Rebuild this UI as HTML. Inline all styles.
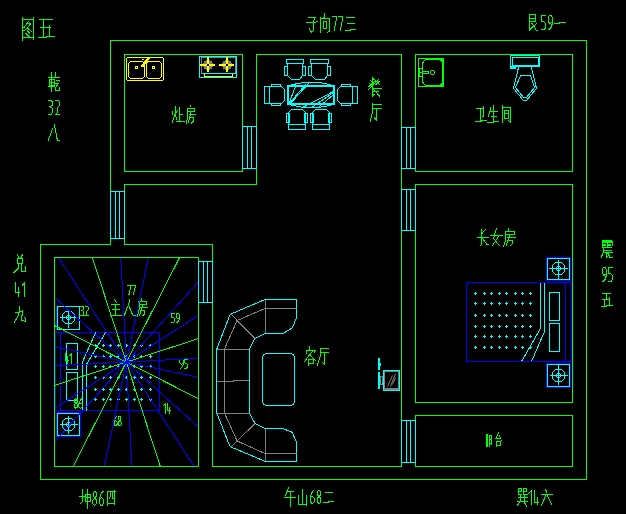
<!DOCTYPE html>
<html><head><meta charset="utf-8"><title>Floor plan</title>
<style>html,body{margin:0;padding:0;background:#000;overflow:hidden;font-family:"Liberation Sans",sans-serif}svg{display:block}</style>
</head><body>
<svg width="626" height="514" viewBox="0 0 626 514" fill="none" stroke-width="1" shape-rendering="crispEdges">
<title>图五 户型风水图</title>
<desc>图五: 灶房 餐厅 卫生间 长女房 主人房 客厅 阳台; 乾32八 兑41九 子向77三 艮59一 震95五 坤86四 午山68二 巽14六</desc>
<rect x="0" y="0" width="626" height="514" fill="#000" stroke="none"/>
<g transform="translate(0.5,0.5)">
<path d="M110 40 L586 40 L586 479 L40 479 L40 244 L110 244 Z" stroke="#00ff00" />
<path d="M256 54 L401 54 L401 466 L212 466 L212 244 L124 244 L124 184 L256 184 Z" stroke="#00ff00" />
<path d="M124 54 L242 54 L242 171 L124 171 Z" stroke="#00ff00" />
<path d="M415 54 L572 54 L572 171 L415 171 Z" stroke="#00ff00" />
<path d="M415 184 L572 184 L572 402 L415 402 Z" stroke="#00ff00" />
<path d="M415 415 L572 415 L572 466 L415 466 Z" stroke="#00ff00" />
<path d="M54 257 L198 257 L198 466 L54 466 Z" stroke="#00ff00" />
<path d="M546 257 L570 257 L570 280 L546 280 Z" stroke="#0000ff" />
<path d="M547 258 L569 258 L569 279 L547 279 Z" stroke="#00ffff" />
<circle cx="558" cy="268" r="6.5" stroke="#00ffff"/>
<circle cx="558" cy="268" r="2" stroke="#00ffff"/>
<path d="M548 268 L567 268" stroke="#00ffff" />
<path d="M558 259 L558 279" stroke="#00ffff" />
<path d="M546 363 L570 363 L570 387 L546 387 Z" stroke="#0000ff" />
<path d="M547 364 L569 364 L569 386 L547 386 Z" stroke="#00ffff" />
<circle cx="558" cy="375" r="6.5" stroke="#00ffff"/>
<circle cx="558" cy="375" r="2" stroke="#00ffff"/>
<path d="M549 375 L567 375" stroke="#00ffff" />
<path d="M558 364 L558 384" stroke="#00ffff" />
<path d="M466 282 L571 282 L571 361 L466 361 Z" stroke="#0000ff" />
<path d="M565 282 L565 361" stroke="#0000ff" />
<path d="M549 292 L559 292 L559 320 L549 320 Z" stroke="#00ffff" />
<path d="M549 323 L559 323 L559 351 L549 351 Z" stroke="#00ffff" />
<path d="M540 282 L540 328 L521 361" stroke="#00ffff" />
<path d="M544 282 L544 331 L531 361" stroke="#00ffff" />
<path d="M473.5 293h3M475 291.5v3M482.5 293h3M484 291.5v3M489.5 293h3M491 291.5v3M497.5 293h3M499 291.5v3M504.5 293h3M506 291.5v3M513.5 293h3M515 291.5v3M520.5 293h3M522 291.5v3M528.5 293h3M530 291.5v3M473.5 303h3M475 301.5v3M482.5 303h3M484 301.5v3M489.5 303h3M491 301.5v3M497.5 303h3M499 301.5v3M504.5 303h3M506 301.5v3M513.5 303h3M515 301.5v3M520.5 303h3M522 301.5v3M528.5 303h3M530 301.5v3M473.5 315h3M475 313.5v3M482.5 315h3M484 313.5v3M489.5 315h3M491 313.5v3M497.5 315h3M499 313.5v3M504.5 315h3M506 313.5v3M513.5 315h3M515 313.5v3M520.5 315h3M522 313.5v3M528.5 315h3M530 313.5v3M473.5 326h3M475 324.5v3M482.5 326h3M484 324.5v3M489.5 326h3M491 324.5v3M497.5 326h3M499 324.5v3M504.5 326h3M506 324.5v3M513.5 326h3M515 324.5v3M520.5 326h3M522 324.5v3M528.5 326h3M530 324.5v3M473.5 336h3M475 334.5v3M482.5 336h3M484 334.5v3M489.5 336h3M491 334.5v3M497.5 336h3M499 334.5v3M504.5 336h3M506 334.5v3M513.5 336h3M515 334.5v3M520.5 336h3M522 334.5v3M528.5 336h3M530 334.5v3M473.5 347h3M475 345.5v3M482.5 347h3M484 345.5v3M489.5 347h3M491 345.5v3M497.5 347h3M499 345.5v3M504.5 347h3M506 345.5v3M513.5 347h3M515 345.5v3M520.5 347h3M522 345.5v3M528.5 347h3M530 345.5v3" stroke="#00ffff"/>
<path d="M56 306 L79 306 L79 329 L56 329 Z" stroke="#0000ff" />
<path d="M57 306 L79 306 L79 329 L57 329 Z" stroke="#00ffff" />
<circle cx="68" cy="317" r="6.5" stroke="#00ffff"/>
<circle cx="68" cy="317" r="2" stroke="#00ffff"/>
<path d="M59 317 L77 317" stroke="#00ffff" />
<path d="M68 308 L68 327" stroke="#00ffff" />
<path d="M56 412 L80 412 L80 436 L56 436 Z" stroke="#0000ff" />
<path d="M57 413 L79 413 L79 435 L57 435 Z" stroke="#00ffff" />
<circle cx="68" cy="424" r="6.5" stroke="#00ffff"/>
<circle cx="68" cy="424" r="2" stroke="#00ffff"/>
<path d="M59 424 L77 424" stroke="#00ffff" />
<path d="M68 415 L68 433" stroke="#00ffff" />
<path d="M55 332 L159 332 L159 410 L55 410 Z" stroke="#0000ff" />
<path d="M60 332 L60 410" stroke="#0000ff" />
<path d="M66 343 L77 343 L77 369 L66 369 Z" stroke="#00ffff" />
<path d="M66 372 L77 372 L77 400 L66 400 Z" stroke="#00ffff" />
<path d="M82 410 L82 361.5 L95 332" stroke="#00ffff" />
<path d="M86 410 L86 364 L105 332" stroke="#00ffff" />
<path d="M148.5 399h3M150 397.5v3M139.5 399h3M141 397.5v3M132.5 399h3M134 397.5v3M124.5 399h3M126 397.5v3M116.5 399h3M118 397.5v3M108.5 399h3M110 397.5v3M101.5 399h3M103 397.5v3M93.5 399h3M95 397.5v3M148.5 389h3M150 387.5v3M139.5 389h3M141 387.5v3M132.5 389h3M134 387.5v3M124.5 389h3M126 387.5v3M116.5 389h3M118 387.5v3M108.5 389h3M110 387.5v3M101.5 389h3M103 387.5v3M93.5 389h3M95 387.5v3M148.5 377h3M150 375.5v3M139.5 377h3M141 375.5v3M132.5 377h3M134 375.5v3M124.5 377h3M126 375.5v3M116.5 377h3M118 375.5v3M108.5 377h3M110 375.5v3M101.5 377h3M103 375.5v3M93.5 377h3M95 375.5v3M148.5 366h3M150 364.5v3M139.5 366h3M141 364.5v3M132.5 366h3M134 364.5v3M124.5 366h3M126 364.5v3M116.5 366h3M118 364.5v3M108.5 366h3M110 364.5v3M101.5 366h3M103 364.5v3M93.5 366h3M95 364.5v3M148.5 356h3M150 354.5v3M139.5 356h3M141 354.5v3M132.5 356h3M134 354.5v3M124.5 356h3M126 354.5v3M116.5 356h3M118 354.5v3M108.5 356h3M110 354.5v3M101.5 356h3M103 354.5v3M93.5 356h3M95 354.5v3M148.5 345h3M150 343.5v3M139.5 345h3M141 343.5v3M132.5 345h3M134 343.5v3M124.5 345h3M126 343.5v3M116.5 345h3M118 343.5v3M108.5 345h3M110 343.5v3M101.5 345h3M103 343.5v3M93.5 345h3M95 343.5v3" stroke="#00ffff"/>
<path d="M242 126 L256 126 L256 168 L242 168 Z" stroke="#00ffff" />
<path d="M247 126 L247 168" stroke="#00ffff" />
<path d="M251 126 L251 168" stroke="#00ffff" />
<path d="M401 127 L415 127 L415 168 L401 168 Z" stroke="#00ffff" />
<path d="M406 127 L406 168" stroke="#00ffff" />
<path d="M410 127 L410 168" stroke="#00ffff" />
<path d="M401 189 L415 189 L415 230 L401 230 Z" stroke="#00ffff" />
<path d="M406 189 L406 230" stroke="#00ffff" />
<path d="M410 189 L410 230" stroke="#00ffff" />
<path d="M110 191 L124 191 L124 238 L110 238 Z" stroke="#00ffff" />
<path d="M115 191 L115 238" stroke="#00ffff" />
<path d="M119 191 L119 238" stroke="#00ffff" />
<path d="M198 261 L212 261 L212 302 L198 302 Z" stroke="#00ffff" />
<path d="M203 261 L203 302" stroke="#00ffff" />
<path d="M207 261 L207 302" stroke="#00ffff" />
<path d="M401 420 L415 420 L415 462 L401 462 Z" stroke="#00ffff" />
<path d="M406 420 L406 462" stroke="#00ffff" />
<path d="M410 420 L410 462" stroke="#00ffff" />
<path d="M127 57 L162 57 L163 58 L163 79 L162 80 L127 80 L126 79 L126 58 Z" stroke="#ffff00" />
<path d="M130 61 L142 61 L144 63 L144 76 L142 78 L130 78 L128 76 L128 63 Z" stroke="#ffff00" />
<path d="M148 61 L159 61 L161 63 L161 76 L159 78 L148 78 L146 76 L146 63 Z" stroke="#ffff00" />
<path d="M135 66 L137 66 L137 68 L135 68 Z" stroke="#ffff00" />
<path d="M152 66 L154 66 L154 68 L152 68 Z" stroke="#ffff00" />
<path d="M140 67 L146 59" stroke="#ffff00" />
<path d="M141 67 L147 59" stroke="#ffff00" />
<path d="M142 67 L148 59" stroke="#ffff00" />
<path d="M141 59 L143 59" stroke="#ffff00" />
<path d="M146 58 L149 58" stroke="#ffff00" />
<path d="M145 60 L145 62" stroke="#ffff00" />
<path d="M199 56 L236 56 L236 77 L199 77 Z" stroke="#00ffff" />
<path d="M201 57 L235 57 L235 73 L201 73 Z" stroke="#808080" />
<path d="M201 73 L235 73" stroke="#00ffff" />
<path d="M204 73 L204 76 L232 76 L232 73" stroke="#ffff00" />
<circle cx="207.5" cy="64.5" r="5" fill="#808080" stroke="none"/>
<rect x="200" y="64" width="15" height="2" fill="#ffff00" stroke="none" transform="translate(-.5,-.5)"/>
<rect x="207" y="57" width="2" height="15" fill="#ffff00" stroke="none" transform="translate(-.5,-.5)"/>
<rect x="207" y="64" width="2" height="2" fill="#000" stroke="none" transform="translate(-.5,-.5)"/>
<circle cx="226.5" cy="64.5" r="5" fill="#808080" stroke="none"/>
<rect x="219" y="64" width="15" height="2" fill="#ffff00" stroke="none" transform="translate(-.5,-.5)"/>
<rect x="226" y="57" width="2" height="15" fill="#ffff00" stroke="none" transform="translate(-.5,-.5)"/>
<rect x="226" y="64" width="2" height="2" fill="#000" stroke="none" transform="translate(-.5,-.5)"/>
<path d="M287 85 L334 85 L334 104 L287 104 Z" stroke="#00ffff" />
<path d="M288 86 L333 86 L333 103 L288 103 Z" stroke="#00ffff" />
<path d="M288 85 Q311 78.5 333 85" stroke="#00ffff"/>
<path d="M288 104 Q311 110.5 333 104" stroke="#00ffff"/>
<path d="M288 104 L295 86" stroke="#00ffff" />
<path d="M288 104 L305 84" stroke="#00ffff" />
<path d="M289 104 L308 83" stroke="#00ffff" />
<path d="M302 107 L333 91" stroke="#00ffff" />
<path d="M311 107 L333 92" stroke="#00ffff" />
<path d="M319 106 L333 94" stroke="#00ffff" />
<path d="M286 59 L303 59 L303 63 L286 63 Z" stroke="#00ffff" />
<path d="M287 63 L287 75 L291 79 L299 79 L302 75 L302 63" stroke="#00ffff" />
<path d="M284 66 L287 66 L287 75 L284 75 Z" stroke="#00ffff" />
<path d="M302 66 L305 66 L305 75 L302 75 Z" stroke="#00ffff" />
<path d="M310 59 L328 59 L328 63 L310 63 Z" stroke="#00ffff" />
<path d="M311 63 L311 75 L315 79 L324 79 L327 75 L327 63" stroke="#00ffff" />
<path d="M308 66 L311 66 L311 75 L308 75 Z" stroke="#00ffff" />
<path d="M327 66 L330 66 L330 75 L327 75 Z" stroke="#00ffff" />
<path d="M288 124 L288 112 L291 109 L302 109 L305 112 L305 124" stroke="#00ffff" />
<path d="M288 124 L305 124 L305 129 L288 129 Z" stroke="#00ffff" />
<path d="M286 113 L289 113 L289 122 L286 122 Z" stroke="#00ffff" />
<path d="M304 113 L307 113 L307 122 L304 122 Z" stroke="#00ffff" />
<path d="M312 124 L312 112 L315 109 L326 109 L329 112 L329 124" stroke="#00ffff" />
<path d="M312 124 L329 124 L329 129 L312 129 Z" stroke="#00ffff" />
<path d="M310 113 L313 113 L313 122 L310 122 Z" stroke="#00ffff" />
<path d="M328 113 L331 113 L331 122 L328 122 Z" stroke="#00ffff" />
<path d="M264 86 L269 86 L269 103 L264 103 Z" stroke="#00ffff" />
<path d="M269 86 L281 86 L284 89 L284 100 L281 103 L269 103" stroke="#00ffff" />
<path d="M271 84 L280 84 L280 86 L271 86 Z" stroke="#00ffff" />
<path d="M271 103 L280 103 L280 105 L271 105 Z" stroke="#00ffff" />
<path d="M352 86 L357 86 L357 103 L352 103 Z" stroke="#00ffff" />
<path d="M352 86 L340 86 L337 89 L337 100 L340 103 L352 103" stroke="#00ffff" />
<path d="M341 84 L350 84 L350 86 L341 86 Z" stroke="#00ffff" />
<path d="M341 103 L350 103 L350 105 L341 105 Z" stroke="#00ffff" />
<path d="M418 58 L443 58 L443 86 L418 86 Z" stroke="#00ff00" />
<path d="M425 59 L442 59 L442 85 L425 85 L423 83 L422 81 L422 63 L423 61 Z" stroke="#00ff00" />
<path d="M439.5 60h2M440.5 61h1M439.5 84h2M440.5 83h1" stroke="#00ff00"/>
<path d="M419 68 L422 68 L422 76 L419 76 Z" stroke="#00ff00" />
<path d="M422 71 L428 71 L428 73 L422 73 Z" stroke="#00ff00" />
<path d="M419 72 L421 72" stroke="#00ff00" />
<circle cx="432" cy="72" r="2" stroke="#00ff00"/>
<path d="M510 55 L539 55 L539 66 L510 66 Z" stroke="#00ffff" />
<path d="M512 57 L538 57 L538 65 L512 65 Z" stroke="#00ffff" />
<rect x="510" y="66" width="6" height="3" fill="#00ffff" stroke="none" transform="translate(-.5,-.5)"/>
<path d="M518 67 L513 88 L523 100 L526 100 L536 88 L531 67" stroke="#00ffff" />
<path d="M520 75 L530 75 L534 87 L526 97 L523 97 L515 87 Z" stroke="#00ffff" />
<path d="M383 370 L399 370 L399 390 L383 390 Z" stroke="#00ffff" />
<path d="M384 371 L398 371 L398 389 L384 389 Z" stroke="#808080" />
<path d="M384 388 L398 388" stroke="#808080" />
<path d="M387 386 L392 375" stroke="#808080" shape-rendering="auto"/>
<path d="M390 386 L395 373" stroke="#808080" shape-rendering="auto"/>
<path d="M392 384 L395 377" stroke="#808080" shape-rendering="auto"/>
<rect x="378" y="358" width="2" height="12" fill="#00ffff" stroke="none" transform="translate(-.5,-.5)"/>
<rect x="378" y="372" width="2" height="17" fill="#00ffff" stroke="none" transform="translate(-.5,-.5)"/>
<path d="M380 362 L380 365" stroke="#00ffff" />
<path d="M380 376 L382 376 L382 384 L380 384 Z" stroke="#808080" />
<path d="M382 377 L383 376" stroke="#00ffff" />
<path d="M382 383 L383 384" stroke="#00ffff" />
</g>
<g>
<path d="M296.5 299.5 L265 299.5 L231 314 L229.5 316 L216.8 349 L216.8 413 L229.5 445.5 L231 447 L265 461.3 L296.5 461.3 L296.5 442.5 L292.3 432.3 L283 428.6 L265 428.6 L255 423.4 L249.4 413 L249.4 349 L255 338.4 L265 333.4 L283 333.4 L292.3 328 L296.5 317.7 Z" stroke="#00ffff" />
<path d="M265 299.5 L265 333.4" stroke="#808080" />
<path d="M265 308.5 L296.5 308.5" stroke="#808080" />
<path d="M265 308.5 L237.2 320.5 L224.4 349" stroke="#808080" />
<path d="M237.2 320.5 L231 314" stroke="#808080" />
<path d="M237.2 320.5 L255 338.4" stroke="#808080" />
<path d="M216.8 349 L249.4 349" stroke="#808080" />
<path d="M224.4 349 L224.4 413" stroke="#808080" />
<path d="M216.8 381.5 L233 381.5 L233 380.5 L249.4 380.5" stroke="#808080" />
<path d="M216.8 413 L249.4 413" stroke="#808080" />
<path d="M224.4 413 L237.2 441 L265 453.6" stroke="#808080" />
<path d="M237.2 441 L231 447" stroke="#808080" />
<path d="M237.2 441 L255 423.4" stroke="#808080" />
<path d="M265 453.6 L296.5 453.6" stroke="#808080" />
<path d="M265 428.6 L265 461.3" stroke="#808080" />
<rect x="262.5" y="353.5" width="32" height="52" rx="4.5" ry="4.5" stroke="#00ffff"/>
<path d="M22.5 17 L22.5 40.5M33.5 17 L33.5 39.5M22.5 19.7 L33.5 19.7M22.5 37.6 L33.5 37.6M29 21 L24 27.5M26.5 23.5 L31 23M31 23 L27.5 28 L24 30.5M27.5 28 L32 32M27.5 31 L29.5 33M26 33.5 L29 36.5M39 19.8 L52 19.8M43.5 19.8 L43.5 37.5M40 27.2 L50 27.2M49.7 25 L49.7 36.5M38.2 37.6 L46 37.6M46 36.6 L54.8 36.6M51.5 72 L51.5 91M48 77.5 L54 77.5M49 79.5 L54 79.5 L54 85 L49 85 L49 79.5M49 82.3 L54 82.3M48 86.5 L54 86.5M56 72 L55.3 76M55 77.5 L59.5 77.5M56 80.5 L59 80.5M55.5 83 L58.5 83 L55.5 88 L55.5 90 L59.5 90 L59.5 87M48 100.59 L51.15 100.59 L52.27 101.73 L52.27 105.45 L49.8 106.73M49.8 106.73 L52.27 108.16 L52.27 112.88 L51.15 114.6 L48 114.6M55.45 100.73 L58.6 100.73 L59.27 101.73 L59.27 106.02 L57.02 108.16 L57.02 113.17 L55.23 114.6 L59.5 114.6M52.5 129 L48.2 140.5M54.4 125 L57.3 140 L59.8 140.3M17.5 255 L18.5 257.5M22.5 254.5 L21 257.5M17.5 258 L22.5 258 L22.5 263.5 L17.5 263.5 L17.5 258M18.6 263.5 L18.6 268 L14.2 272.5M21 263.5 L21 271 L25.4 271 L25.4 266M15.68 282.3 L15.68 292.16 L19.5 292.16M18.24 287.1 L18.24 296M24.7 282.3 L24.7 296M24.7 282.57 L22.45 285.31M19.5 306.2 L19.5 312M15 312.4 L19.5 312.4M19.5 311.2 L22.5 311.2M18.7 312.4 L18.5 315 L14.3 322.5M22.5 310 L22.5 315 L21.6 315 L21.6 320.7 L25.7 321.3 L25.7 320 L24.5 317.2M308 17 L315.7 17 L313.2 21.8M306.2 23 L312 22.5 L317.9 21.7M313.4 22 L313.4 30.7 L311.5 32.4 L309.5 29M324.8 14 L324 17.5M320.5 17.3 L320.5 32M320.5 18.4 L329.5 18.4 L329.5 31.3 L327.4 32.4M323.5 21.8 L326.8 21.8 L326.8 28.5 L323.5 28.5 L323.5 21.8M332 16.59 L336.18 16.59 L336.18 19.9 L334.2 30.7M338.2 16.59 L342.38 16.59 L342.38 19.9 L340.4 30.7M346.5 17.7 L354.5 17.7M347 23 L354 23M345.3 30.4 L350 30.4M350 29.4 L355.9 29.4M529.3 14.1 L529.3 30.6M529.3 14.6 L535.9 14.6 L535.9 21.8 L529.3 21.8M529.3 18.4 L535.9 18.4M536.7 23.3 L529.3 30M531.7 23 L536.3 30.2 L537.8 30.2M545.57 15.69 L541.75 15.69 L541.75 21.45 L544 21.88 L545.57 23.75 L545.57 27.64 L544 29.8 L541.52 29.8M552.17 22.6 L549.7 23.32 L548.12 21.45 L548.12 17.13 L549.48 15.69 L551.05 15.69 L552.17 17.13 L552.17 24.04 L551.05 27.64 L548.8 29.8M554 23.3 L559 23.3M559 22.4 L565 22.4M602.5 240.2 L611.5 240.2M602 246 L602 242.3 L612 242.3 L612 245M607 240.2 L607 246.5M603.5 244.3 L605.5 244.3M608.5 244.3 L610.5 244.3M603.5 245.6 L605.5 245.6M608.5 245.6 L610.5 245.6M602 241.2 L612 241.2M602.5 247.7 L611.5 247.7M603 247.7 L603 253 L601 258M604.5 250 L611 250M604.5 252.6 L612 252.6M606 252.6 L606 258 L608 256M607.5 252.6 L610 257.5 L612.5 257.5M606.18 274.5 L603.76 275.23 L602.22 273.33 L602.22 268.95 L603.54 267.49 L605.08 267.49 L606.18 268.95 L606.18 275.96 L605.08 279.61 L602.88 281.8M612.48 267.49 L608.74 267.49 L608.74 273.33 L610.94 273.77 L612.48 275.67 L612.48 279.61 L610.94 281.8 L608.52 281.8M602 293.3 L610.5 293.3M606.4 293.3 L606.4 299.5 L604.3 299.5 L604.3 306.5M602 299.7 L609.6 299.7M609 297 L609 305M601 306.6 L606.5 306.6M606.5 305.6 L612.7 305.6M82.6 489 L82.6 501.2 L80.2 503.6M79.8 496.8 L85 496.8M87.4 489 L87.4 508M85 494 L90.2 494 L90.2 501.6 L85 501.6 L85 494M85 497.7 L90.2 497.7M94.7 491.3 L93.26 492.72 L93.26 496.27 L94.7 497.97 L96.14 496.27 L96.14 492.72 L94.7 491.3M94.7 497.97 L92.99 499.82 L92.99 503.8 L94.7 505.5 L96.41 503.8 L96.41 499.82 L94.7 497.97M103.16 491.3 L101.4 493.43 L99.64 497.69 L99.64 503.37 L100.96 505.5 L102.06 505.5 L103.38 503.37 L103.38 499.54 L101.84 497.69 L99.64 499.11M107.3 491 L107.3 505.6M107.3 491.7 L115.3 491.7M114.4 490 L114.4 504.8M107.3 503.3 L114.4 503.3M110.1 491.7 L110.1 497 L109 499M112.3 491.7 L112.3 498.8 L114 499M288.4 488 L285.3 495.4M287.5 491.2 L293.9 491.2M284 497 L295.8 497M290.4 491.2 L290.4 506M302.5 489.2 L302.5 504M298.5 495.4 L298.5 504.3 L306.8 504.3M306.8 495 L306.8 505.5M313.87 490.2 L312.15 492.21 L310.43 496.23 L310.43 501.59 L311.72 503.6 L312.8 503.6 L314.08 501.59 L314.08 497.97 L312.58 496.23 L310.43 497.57M319.1 490.2 L317.5 491.54 L317.5 494.89 L319.1 496.5 L320.7 494.89 L320.7 491.54 L319.1 490.2M319.1 496.5 L317.21 498.24 L317.21 501.99 L319.1 503.6 L320.99 501.99 L320.99 498.24 L319.1 496.5M325 492.4 L332.9 492.4M323 502.6 L328 502.6M328 501.7 L333.9 501.7M518.2 488.5 L521 488.5 L521 491.3 L518.2 491.3 L518.2 488.5M518.2 491.3 L518.2 494.5 L521.5 494.5M523.5 488.5 L526.5 488.5 L526.5 491.3 L523.5 491.3 L523.5 488.5M523.5 491.3 L523.5 494.5 L527 494.5M518 497.7 L527 497.7M517.3 501.2 L527.1 501.2M520.5 495 L520.5 501M524 495 L524 501M520.5 501.2 L517 506M523.5 501.2 L526.5 506M531.2 490.2 L531.2 504.8M531.2 490.49 L528.95 493.41M534 490.2 L534 502 L538.5 502M537.8 497.6 L537.8 504.8M545.5 489.2 L546.7 492.4M541.2 494.7 L552 494.7M545.5 496 L541.3 505.6M547.5 496 L551.7 504.8M175.2 106 L175.2 113 L172.3 122.5M172.3 111 L172.3 114M177.2 110.5 L176.6 112.5M175.2 113 L176.6 119.5M179.2 107 L179.2 121.1M179.2 114.3 L182.7 114.3M176.2 121.6 L184.8 121.6M190.45 105 L190.45 106.88M187.48 108.01 L194.81 108.01 L194.81 111.02 L187.98 111.02M187.78 108.01 L187.78 117.22 L186.2 123.42M190.95 111.96 L190.95 113.46M189.07 114.21 L195.7 114.21M190.45 114.21 L188.47 122.48M190.45 117.31 L193.42 117.31 L193.42 120.98 L191.44 123.05M476 108.1 L483.6 108.1M483.6 106.5 L483.6 116 L482 116.2M480 108.1 L480 121M475.2 121.6 L481 121.6M481 120.8 L486.8 120.8M490.8 108 L488.5 116M493.6 105.2 L493.6 121.5M490 111.7 L497.6 111.7M491 116.9 L496.4 116.9M487.2 122.2 L493 122.2M493 121.4 L498.8 121.4M502.4 105.2 L502.4 122.8M503.5 107.8 L510.7 107.8 L510.7 122.4 L508.3 120.5M504.6 110.4 L508.7 110.4 L508.7 118 L504.6 118 L504.6 110.4M504.6 113.7 L508.7 113.7M481.6 229 L481.6 244.6 L480 245.8M485.2 229.5 L481.6 234M477.2 237 L488.8 237M481.6 237 L486.8 244.2 L488.8 244.5M490 235.5 L502 235.5M496.4 228.2 L493.6 238.6 L499.6 245.8M499.2 235.5 L492.4 245.8M508.79 228.2 L508.79 230.04M505.22 231.14 L514.03 231.14 L514.03 234.09 L505.82 234.09M505.58 231.14 L505.58 240.16 L503.68 246.23M509.39 235.01 L509.39 236.48M507.13 237.22 L515.1 237.22M508.79 237.22 L506.41 245.31M508.79 240.25 L512.36 240.25 L512.36 243.84 L509.98 245.86M114.2 299 L116.6 302.6M111.4 304.7 L119.8 304.7M112 309.5 L119.8 309.5M115.4 304.7 L115.4 315M110.6 315.2 L121 315.2M129.4 299 L129.4 302 L124.2 315.7M128.6 305 L132.6 315 L135.5 315.5M141.7 298.2 L141.7 300.03M138.7 301.13 L146.1 301.13 L146.1 304.06 L139.2 304.06M139 301.13 L139 310.09 L137.4 316.13M142.2 304.97 L142.2 306.44M140.3 307.17 L147 307.17M141.7 307.17 L139.7 315.22M141.7 310.19 L144.7 310.19 L144.7 313.75 L142.7 315.77M309.5 346.8 L309.5 349M306.2 353.5 L306.2 350.3 L315.4 350.3 L314.5 352M312.7 351 L304.2 361.8M309 354 L315.4 360.4M308.3 359.8 L313 359.8 L313 363.5 L308.3 363.5 L308.3 359.8M308.3 359.8 L308.3 365.9M320.2 348.6 L328.9 348.6M320.2 348 L320.2 356.5 L317.1 365.5M321.2 352.6 L328.9 352.6M324.6 352.6 L324.6 364.5 L322.3 362.5M372.6 77 L372.6 96M372.6 78 L379.6 84.4M379 79 L368 90M374 81 L378 81M369 83 L372 86M370 80 L374 84M369 86.5 L376 80M376 84.5 L380 81M372.6 88.3 L381 88.3M372.6 91.2 L378 91.2M372.6 88.5 L379.5 96M372.6 95.5 L375 94M372.4 104.6 L381.1 104.6M372.4 103 L372.4 112 L370.2 121M373.5 108.4 L381 108.4M376.3 108.4 L376.3 120 L374.5 118M486.3 434 L486.3 446M487.3 434 L487.3 446M489.2 446 L489.2 435.3 L491.8 435.3 L491.8 444.9M489.2 439.2 L491.8 439.2M489.2 443.3 L491.8 443.3M498.4 433 L496.1 437.5M495 438.8 L500.8 438.8M499.5 435.5 L500.5 438M501.6 440.3 L501.7 440.3M496.1 441.6 L500.8 441.6 L500.8 445.4 L496.1 445.4 L496.1 441.6M496.1 441.6 L496.1 446.9M127.2 285 L130.62 285 L130.62 287.25 L129 294.6M131.7 285 L135.12 285 L135.12 287.25 L133.5 294.6M80.3 306.39 L82.82 306.39 L83.72 307.14 L83.72 309.58 L81.74 310.43M81.74 310.43 L83.72 311.37 L83.72 314.47 L82.82 315.6 L80.3 315.6M85.16 306.48 L87.68 306.48 L88.22 307.14 L88.22 309.96 L86.42 311.37 L86.42 314.66 L84.98 315.6 L88.4 315.6M174.72 313.59 L171.66 313.59 L171.66 317.31 L173.46 317.58 L174.72 318.79 L174.72 321.3 L173.46 322.7 L171.48 322.7M179.32 318.05 L177.34 318.51 L176.08 317.31 L176.08 314.52 L177.16 313.59 L178.42 313.59 L179.32 314.52 L179.32 318.98 L178.42 321.3 L176.62 322.7M65.53 353.6 L65.53 360.51 L68.5 360.51M67.52 356.96 L67.52 363.2M71.5 353.6 L71.5 363.2M71.5 353.79 L69.75 355.71M183.02 363.7 L181.04 364.18 L179.78 362.93 L179.78 360.05 L180.86 359.09 L182.12 359.09 L183.02 360.05 L183.02 364.66 L182.12 367.06 L180.32 368.5M187.42 359.09 L184.36 359.09 L184.36 362.93 L186.16 363.22 L187.42 364.47 L187.42 367.06 L186.16 368.5 L184.18 368.5M75.85 398.8 L74.44 399.74 L74.44 402.09 L75.85 403.22 L77.26 402.09 L77.26 399.74 L75.85 398.8M75.85 403.22 L74.19 404.44 L74.19 407.07 L75.85 408.2 L77.52 407.07 L77.52 404.44 L75.85 403.22M81.93 398.8 L80.45 400.21 L78.97 403.03 L78.97 406.79 L80.08 408.2 L81 408.2 L82.11 406.79 L82.11 404.25 L80.82 403.03 L78.97 403.97M165.04 403.7 L165.04 413.2M165.04 403.89 L163.34 405.79M167.31 403.7 L167.31 410.54 L170.2 410.54M169.25 407.02 L169.25 413.2M116.86 416.2 L115.5 417.65 L114.14 420.56 L114.14 424.44 L115.16 425.9 L116.01 425.9 L117.03 424.44 L117.03 421.83 L115.84 420.56 L114.14 421.53M119.7 416.2 L118.41 417.17 L118.41 419.59 L119.7 420.76 L120.99 419.59 L120.99 417.17 L119.7 416.2M119.7 420.76 L118.17 422.02 L118.17 424.74 L119.7 425.9 L121.23 424.74 L121.23 422.02 L119.7 420.76" stroke="#00ff00" stroke-linecap="square"/>
</g>
<g transform="translate(0.5,0.5)">
<clipPath id="mr"><rect x="54.5" y="257.5" width="143" height="208"/></clipPath>
<g clip-path="url(#mr)">
<path d="M125.85 361.55 L188.07 68.07" stroke="#0000ff" />
<path d="M125.85 361.55 L261.91 94.18" stroke="#00ff00" />
<path d="M125.85 361.55 L326.47 138.5" stroke="#0000ff" />
<path d="M125.85 361.55 L377.37 198.03" stroke="#0000ff" />
<path d="M125.85 361.55 L411.12 268.7" stroke="#00ff00" />
<path d="M125.85 361.55 L425.43 345.69" stroke="#0000ff" />
<path d="M125.85 361.55 L419.33 423.77" stroke="#0000ff" />
<path d="M125.85 361.55 L393.22 497.61" stroke="#00ff00" />
<path d="M125.85 361.55 L348.9 562.17" stroke="#0000ff" />
<path d="M125.85 361.55 L289.37 613.07" stroke="#0000ff" />
<path d="M125.85 361.55 L218.7 646.82" stroke="#00ff00" />
<path d="M125.85 361.55 L141.71 661.13" stroke="#0000ff" />
<path d="M125.85 361.55 L63.63 655.03" stroke="#0000ff" />
<path d="M125.85 361.55 L-10.21 628.92" stroke="#00ff00" />
<path d="M125.85 361.55 L-74.77 584.6" stroke="#0000ff" />
<path d="M125.85 361.55 L-125.67 525.07" stroke="#0000ff" />
<path d="M125.85 361.55 L-159.42 454.4" stroke="#00ff00" />
<path d="M125.85 361.55 L-173.73 377.41" stroke="#0000ff" />
<path d="M125.85 361.55 L-167.63 299.33" stroke="#0000ff" />
<path d="M125.85 361.55 L-141.52 225.49" stroke="#00ff00" />
<path d="M125.85 361.55 L-97.2 160.93" stroke="#0000ff" />
<path d="M125.85 361.55 L-37.67 110.03" stroke="#0000ff" />
<path d="M125.85 361.55 L33 76.28" stroke="#00ff00" />
<path d="M125.85 361.55 L109.99 61.97" stroke="#0000ff" />
</g>
</g>
</svg></body></html>
